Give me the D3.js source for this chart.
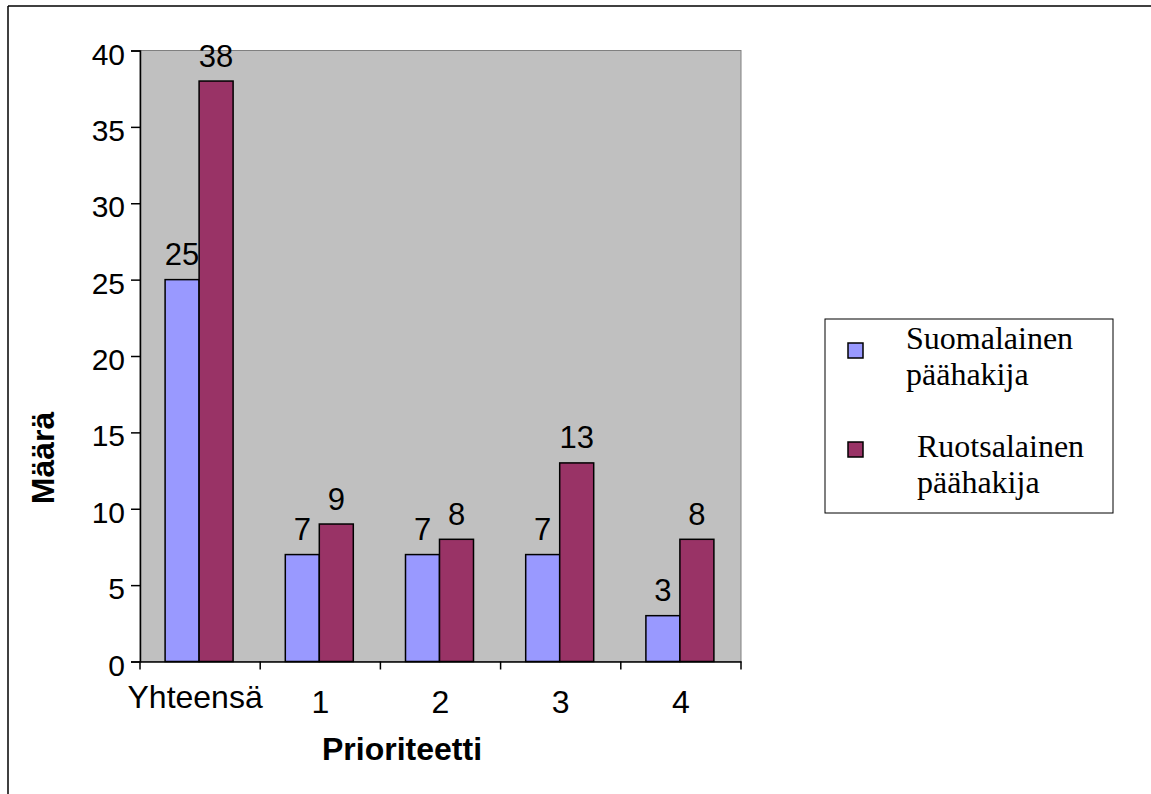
<!DOCTYPE html>
<html><head><meta charset="utf-8">
<script src="https://cdn.jsdelivr.net/npm/d3@7"></script>
<style>html,body{margin:0;padding:0;background:#fff;}svg{display:block;}</style>
</head><body>
<svg id="c" width="1151" height="794"></svg>
<script>
const categories = ["Yhteensä", "1", "2", "3", "4"];
const seriesNames = ["Suomalainen päähakija", "Ruotsalainen päähakija"];
const suomalainen = [25, 7, 7, 7, 3];
const ruotsalainen = [38, 9, 8, 13, 8];
const yTicks = [0, 5, 10, 15, 20, 25, 30, 35, 40];
const legendLines = [["Suomalainen", "päähakija"], ["Ruotsalainen", "päähakija"]];

const colors = ["#9999FF", "#993366"];
const values = [suomalainen, ruotsalainen];
const svg = d3.select("#c");
const sans = "'Liberation Sans', Arial, sans-serif";
const serif = "'Liberation Serif', 'Times New Roman', serif";

// outer frame (top and left)
svg.append("line").attr("x1", 8).attr("y1", 6).attr("x2", 1151).attr("y2", 6).attr("stroke", "#000").attr("stroke-width", 1.5);
svg.append("line").attr("x1", 8).attr("y1", 6).attr("x2", 8).attr("y2", 794).attr("stroke", "#000").attr("stroke-width", 1.5);

const L = 140, R = 741, T = 50.5, B = 661.5;
const x0 = d3.scaleBand().domain(categories).range([L, R]).paddingInner(0).paddingOuter(0);
const groupW = 68;
const x1 = d3.scaleBand().domain(seriesNames).range([0, groupW]);
const y = d3.scaleLinear().domain([0, 40]).range([B, T]);

svg.append("rect").attr("x", L).attr("y", T).attr("width", R - L).attr("height", B - T)
  .attr("fill", "#C0C0C0").attr("stroke", "#808080").attr("stroke-width", 1);

const data = [];
categories.forEach((c, i) => seriesNames.forEach((s, j) => data.push({c, s, j, v: values[j][i]})));
const off = (x0.bandwidth() - groupW) / 2 - 1;

svg.append("g").selectAll("rect").data(data).join("rect")
  .attr("x", d => x0(d.c) + off + x1(d.s))
  .attr("y", d => y(d.v))
  .attr("width", x1.bandwidth())
  .attr("height", d => B - y(d.v))
  .attr("fill", d => colors[d.j])
  .attr("stroke", "#000").attr("stroke-width", 1.5);

svg.append("g").selectAll("text").data(data).join("text")
  .attr("x", d => x0(d.c) + off + x1(d.s) + x1.bandwidth() / 2)
  .attr("y", d => y(d.v) - 14.5)
  .attr("text-anchor", "middle")
  .attr("font-family", sans).attr("font-size", 31).attr("fill", "#000")
  .text(d => d.v);

// Y axis
const yAxis = svg.append("g").attr("transform", `translate(${L},0)`)
  .call(d3.axisLeft(y).tickValues(yTicks).tickSize(9).tickPadding(6));
yAxis.select(".domain").attr("stroke", "#000").attr("stroke-width", 1.5);
yAxis.selectAll(".tick line").attr("stroke", "#000").attr("stroke-width", 1.5);
yAxis.selectAll(".tick text").attr("font-family", sans).attr("font-size", 30).attr("fill", "#000").attr("dy", "0.45em");

// X axis with ticks at category boundaries
const xAxis = svg.append("g").attr("transform", `translate(0,${B})`)
  .call(d3.axisBottom(x0).tickSize(0).tickPadding(0));
xAxis.select(".domain").attr("stroke", "#000").attr("stroke-width", 1.5);
xAxis.selectAll(".tick text").attr("font-family", sans).attr("font-size", 32).attr("fill", "#000")
  .attr("dy", null).attr("y", d => isNaN(+d) ? 46 : 51).attr("x", d => isNaN(+d) ? -5 : 0);
const bounds = categories.map(c => x0(c)).concat([R]);
xAxis.append("g").selectAll("line").data(bounds).join("line")
  .attr("x1", d => d).attr("x2", d => d).attr("y1", 0).attr("y2", 8)
  .attr("stroke", "#000").attr("stroke-width", 1.5);

// axis titles
svg.append("text").attr("x", 402).attr("y", 760).attr("text-anchor", "middle")
  .attr("font-family", sans).attr("font-weight", "bold").attr("font-size", 32).attr("fill", "#000")
  .text("Prioriteetti");
svg.append("text").attr("transform", "translate(54,458) rotate(-90)").attr("text-anchor", "middle")
  .attr("font-family", sans).attr("font-weight", "bold").attr("font-size", 32).attr("fill", "#000")
  .text("Määrä");

// legend
const lg = svg.append("g");
lg.append("rect").attr("x", 825).attr("y", 319).attr("width", 288).attr("height", 194)
  .attr("fill", "#fff").attr("stroke", "#000").attr("stroke-width", 1);
const legY = [343, 442];
const legTextX = [906, 917];
seriesNames.forEach((s, j) => {
  lg.append("rect").attr("x", 848).attr("y", legY[j]).attr("width", 15).attr("height", 15)
    .attr("fill", colors[j]).attr("stroke", "#000").attr("stroke-width", 1.5);
  legendLines[j].forEach((t, k) => {
    lg.append("text").attr("x", legTextX[j]).attr("y", legY[j] + 6 + k * 36 + (j === 1 ? 9 : 0))
      .attr("font-family", serif).attr("font-size", 32).attr("fill", "#000").text(t);
  });
});
</script>
</body></html>
